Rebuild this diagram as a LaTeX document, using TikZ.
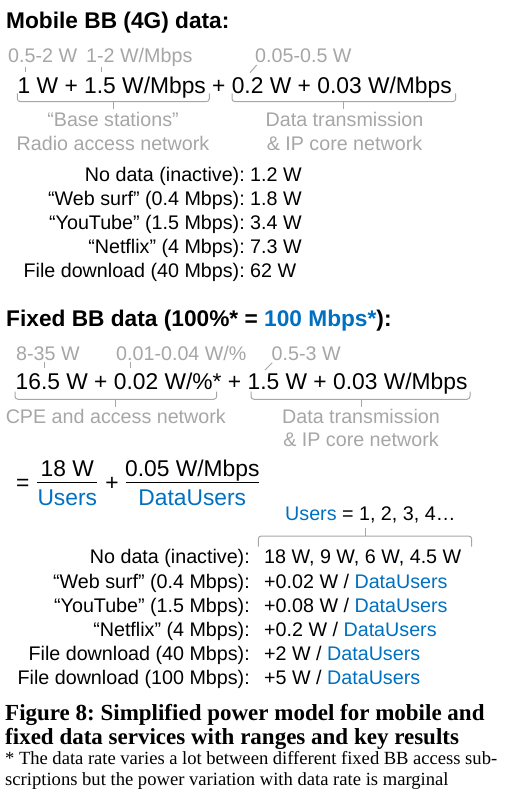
\documentclass[tikz,border=0pt]{standalone}
\usepackage{fontspec}
\setmainfont{Liberation Sans}
\newfontfamily\capfont{Liberation Serif}
\definecolor{pmblue}{RGB}{0,112,192}
\definecolor{pmgray}{RGB}{166,166,166}
\tikzset{
    hdr/.style = {font=\bfseries\fontsize{22.7}{27}\selectfont, anchor=base west, inner sep=0pt},
    formula/.style = {font=\fontsize{22.8}{27}\selectfont, anchor=base west, inner sep=0pt},
    rangelbl/.style = {font=\fontsize{19.7}{24}\selectfont, text=pmgray, anchor=base west, inner sep=0pt},
    partlbl/.style = {font=\fontsize{19.7}{24}\selectfont, text=pmgray, anchor=base, inner sep=0pt},
    rowlbl/.style = {font=\fontsize{19.7}{24}\selectfont, anchor=base east, inner sep=0pt},
    rowval/.style = {font=\fontsize{19.7}{24}\selectfont, anchor=base west, inner sep=0pt},
    captxt/.style = {font=\capfont\bfseries\fontsize{23}{27}\selectfont, anchor=base west, inner sep=0pt},
    notetxt/.style = {font=\capfont\fontsize{18.6}{22}\selectfont, anchor=base west, inner sep=0pt},
    rangetick/.style = {draw=pmgray, line width=1pt},
    brc/.style = {draw=pmgray, line width=1pt, rounded corners=3pt},
    fracbar/.style = {draw=black, line width=1.2pt}
}
\begin{document}
\frenchspacing
\begin{tikzpicture}[
        x = 1pt,
        y = -1pt
    ]
        \useasboundingbox (0,0) rectangle (515,798);
        % mobile broadband
        \node[hdr] (mtitle) at (6,28.3) {Mobile BB (4G) data:};
        \node[rangelbl] (mr1) at (8,62.7) {0.5-2 W};
        \node[rangelbl] (mr2) at (86,62.7) {1-2 W/Mbps};
        \node[rangelbl] (mr3) at (255,62.7) {0.05-0.5 W};
        \node[formula] (mform) at (17.5,93) {1 W + 1.5 W/Mbps + 0.2 W + 0.03 W/Mbps};
        \coordinate (mt1a) at (25,66.7);
        \coordinate (mt1b) at (25,72.3);
        \coordinate (mt2a) at (101.7,66.7);
        \coordinate (mt2b) at (101.7,72.3);
        \coordinate (mt3a) at (256.7,65);
        \coordinate (mt3b) at (250,72.7);
        \draw[rangetick] (mt1a) -- (mt1b);
        \draw[rangetick] (mt2a) -- (mt2b);
        \draw[rangetick] (mt3a) -- (mt3b);
        \draw[brc] (17.3,93.3) -- (17.3,101.7) -- (209.3,101.7) -- (209.3,93.3);
        \draw[rangetick] (113.3,101.7) -- (113.3,108.8);
        \draw[brc] (232,93.3) -- (232,101.7) -- (455.7,101.7) -- (455.7,93.3);
        \draw[rangetick] (343,101.7) -- (343,108.8);
        \node[partlbl] (mran1) at (113,126.7) {“Base stations”};
        \node[partlbl] (mran2) at (113,150) {Radio access network};
        \node[partlbl] (mcore1) at (344.5,126.7) {Data transmission};
        \node[partlbl] (mcore2) at (344.5,150) {\& IP core network};
        \node[rowlbl] (ml1) at (245,181.5) {No data (inactive):};
        \node[rowlbl] (ml2) at (245,205.5) {“Web surf” (0.4 Mbps):};
        \node[rowlbl] (ml3) at (245,229.5) {“YouTube” (1.5 Mbps):};
        \node[rowlbl] (ml4) at (245,253.5) {“Netflix” (4 Mbps):};
        \node[rowlbl] (ml5) at (245,277.5) {File download (40 Mbps):};
        \node[rowval] (mv1) at (250,181.5) {1.2 W};
        \node[rowval] (mv2) at (250,205.5) {1.8 W};
        \node[rowval] (mv3) at (250,229.5) {3.4 W};
        \node[rowval] (mv4) at (250,253.5) {7.3 W};
        \node[rowval] (mv5) at (250,277.5) {62 W};
        % fixed broadband
        \node[hdr] (ftitle) at (6,326) {Fixed BB data (100\%* = \textcolor{pmblue}{100 Mbps*}):};
        \node[rangelbl] (fr1) at (16,360.5) {8-35 W};
        \node[rangelbl] (fr2) at (116,360.5) {0.01-0.04 W/\%};
        \node[rangelbl] (fr3) at (271.5,360.5) {0.5-3 W};
        \node[formula] (fform) at (15.5,389) {16.5 W + 0.02 W/\%* + 1.5 W + 0.03 W/Mbps};
        \coordinate (ft1a) at (44.3,362);
        \coordinate (ft1b) at (44.3,367.5);
        \coordinate (ft2a) at (130,362);
        \coordinate (ft2b) at (130,367.5);
        \coordinate (ft3a) at (272.3,362.7);
        \coordinate (ft3b) at (265,370);
        \draw[rangetick] (ft1a) -- (ft1b);
        \draw[rangetick] (ft2a) -- (ft2b);
        \draw[rangetick] (ft3a) -- (ft3b);
        \draw[brc] (15,391.5) -- (15,399.3) -- (216.7,399.3) -- (216.7,391.5);
        \draw[rangetick] (115.7,399.3) -- (115.7,406.7);
        \draw[brc] (251,391.5) -- (251,399.3) -- (470,399.3) -- (470,391.5);
        \draw[rangetick] (361,399.3) -- (361,406.7);
        \node[partlbl] (facc) at (115.8,423.3) {CPE and access network};
        \node[partlbl] (fcore1) at (361,423.3) {Data transmission};
        \node[partlbl] (fcore2) at (361,446.7) {\& IP core network};
        \node[formula, anchor=base] (feq) at (22.8,490) {=};
        \node[formula, anchor=base] (fnum1) at (67.3,476) {18 W};
        \node[formula, anchor=base, text=pmblue] (fden1) at (67.3,505) {Users};
        \draw[fracbar] (37.3,482.3) -- (97.3,482.3);
        \node[formula, anchor=base] (fplus) at (112,490) {+};
        \node[formula, anchor=base] (fnum2) at (192.3,476) {0.05 W/Mbps};
        \node[formula, anchor=base, text=pmblue] (fden2) at (192.3,505) {DataUsers};
        \draw[fracbar] (125.7,482.3) -- (259,482.3);
        \node[rowval] (fusers) at (285,520.5) {\textcolor{pmblue}{Users} = 1, 2, 3, 4…};
        \draw[brc] (258.3,546.7) -- (258.3,536) -- (471.7,536) -- (471.7,546.7);
        \draw[rangetick] (365,536) -- (365,527.5);
        \node[rowlbl] (fl1) at (250,563.5) {No data (inactive):};
        \node[rowlbl] (fl2) at (250,588) {“Web surf” (0.4 Mbps):};
        \node[rowlbl] (fl3) at (250,612) {“YouTube” (1.5 Mbps):};
        \node[rowlbl] (fl4) at (250,636) {“Netflix” (4 Mbps):};
        \node[rowlbl] (fl5) at (250,660) {File download (40 Mbps):};
        \node[rowlbl] (fl6) at (250,684) {File download (100 Mbps):};
        \node[rowval] (fv1) at (264,563.5) {18 W, 9 W, 6 W, 4.5 W};
        \node[rowval] (fv2) at (264,588) {+0.02 W / \textcolor{pmblue}{DataUsers}};
        \node[rowval] (fv3) at (264,612) {+0.08 W / \textcolor{pmblue}{DataUsers}};
        \node[rowval] (fv4) at (264,636) {+0.2 W / \textcolor{pmblue}{DataUsers}};
        \node[rowval] (fv5) at (264,660) {+2 W / \textcolor{pmblue}{DataUsers}};
        \node[rowval] (fv6) at (264,684) {+5 W / \textcolor{pmblue}{DataUsers}};
        % caption
        \node[captxt] (cap1) at (5,720) {Figure 8: Simplified power model for mobile and};
        \node[captxt] (cap2) at (5,744.3) {fixed data services with ranges and key results};
        \node[notetxt] (note1) at (5,764) {\makebox[492pt][s]{* The data rate varies a lot between different fixed BB access sub-}};
        \node[notetxt] (note2) at (5,785) {scriptions but the power variation with data rate is marginal};
    \end{tikzpicture}
\end{document}
